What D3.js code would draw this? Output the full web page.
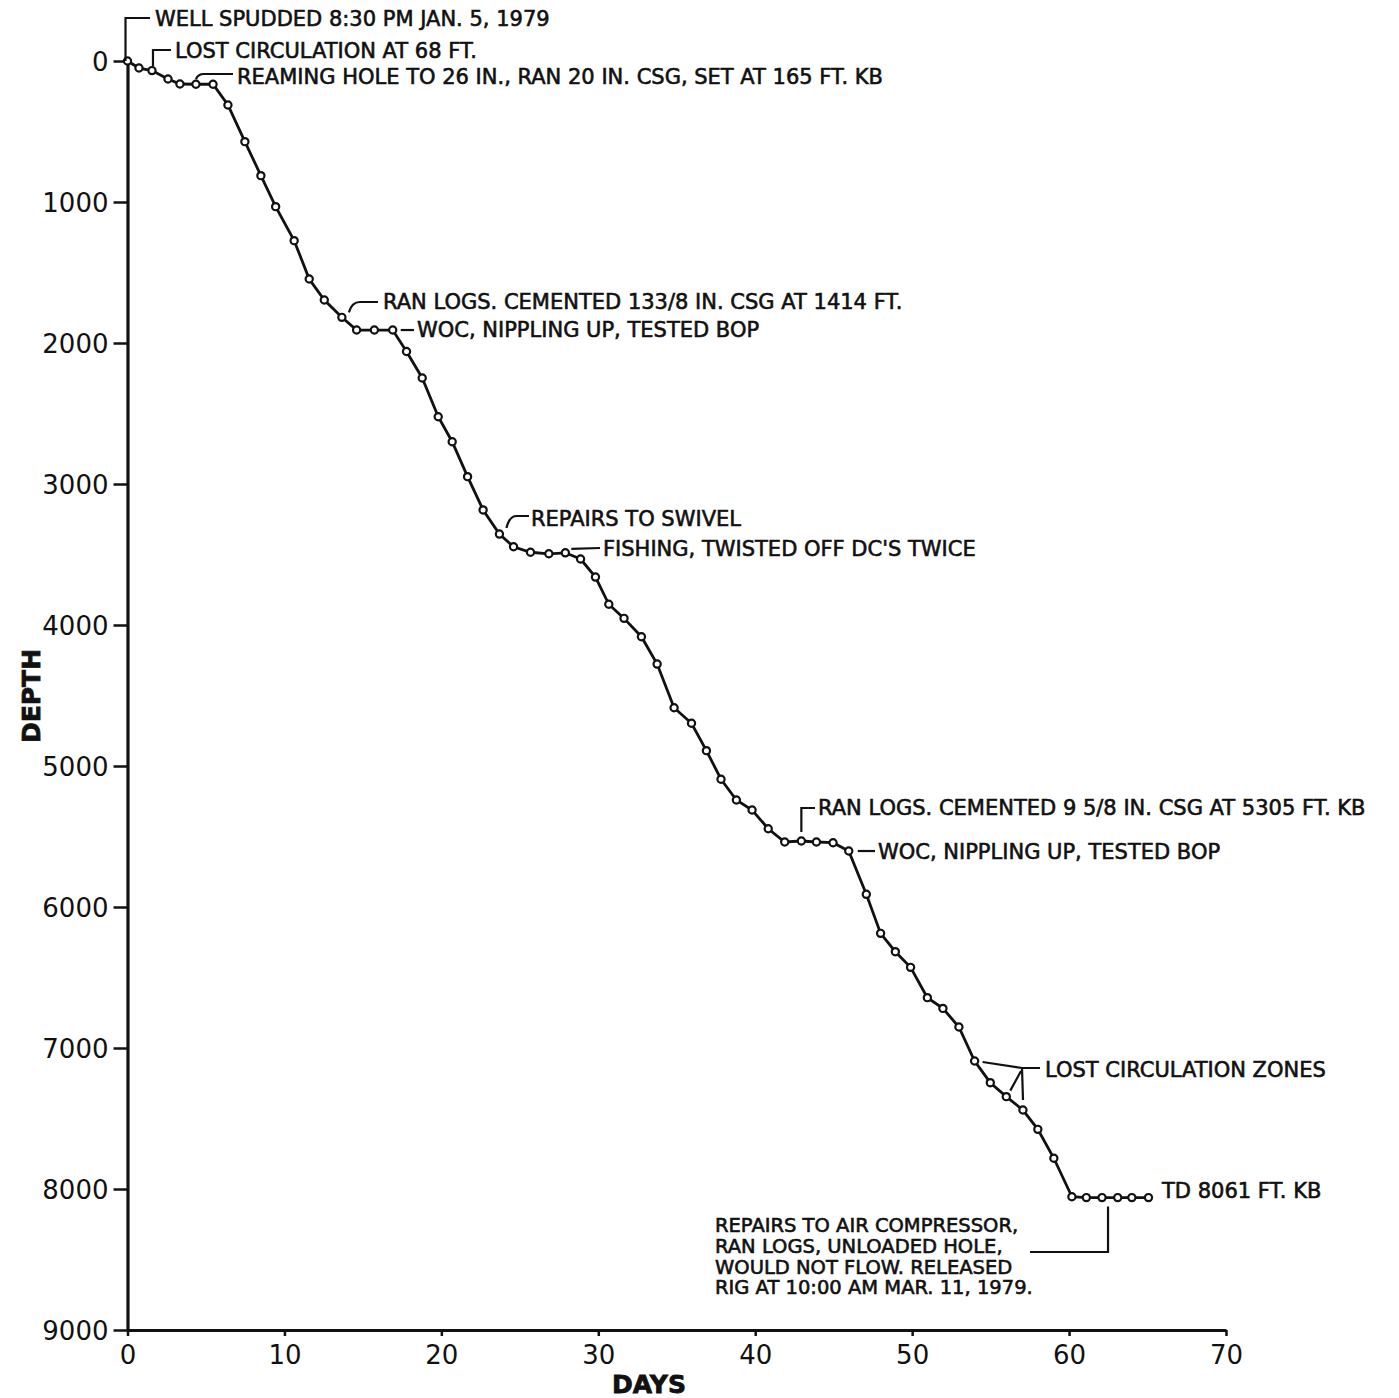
<!DOCTYPE html>
<html>
<head>
<meta charset="utf-8">
<script src="https://cdn.jsdelivr.net/npm/d3@7"></script>
<style>
  body { margin: 0; background: #fff; }
  svg text { font-family: "DejaVu Sans", sans-serif; fill: #111; }
  .note { font-size: 21px; stroke: #111; stroke-width: 0.6px; }
  .tick text { font-size: 26px; }
</style>
</head>
<body>
<div class="chart"></div>
<script>
// days since spud and depth (ft)
var days = [0, 0.73, 1.56, 2.58, 3.34, 4.36, 5.45, 6.4, 7.48, 8.5, 9.44, 10.62, 11.58, 12.54,
    13.66, 14.6, 15.73, 16.9, 17.78, 18.78, 19.8, 20.69, 21.67, 22.66, 23.7, 24.6, 25.68,
    26.85, 27.9, 28.87, 29.82, 30.67, 31.64, 32.75, 33.75, 34.83, 35.94, 36.89, 37.82, 38.8,
    39.8, 40.83, 41.88, 42.94, 43.9, 44.96, 45.96, 47.08, 47.99, 48.93, 49.9, 50.97, 51.96,
    52.98, 53.98, 54.98, 56.0, 57.06, 58.01, 59.03, 60.18, 61.1, 62.1, 63.1, 64.0, 65.06];
var depths = [0, 50, 68, 128, 163, 165, 165, 312, 572, 813, 1033, 1274, 1546, 1695,
    1818, 1908, 1908, 1908, 2060, 2248, 2523, 2700, 2948, 3184, 3355, 3445, 3484,
    3495, 3488, 3532, 3660, 3853, 3953, 4083, 4277, 4587, 4697, 4891, 5094, 5241,
    5312, 5445, 5539, 5532, 5539, 5544, 5603, 5910, 6187, 6317, 6428, 6643, 6719,
    6851, 7092, 7246, 7345, 7440, 7577, 7782, 8055, 8061, 8061, 8061, 8061, 8061];
var dayTicks = [0, 10, 20, 30, 40, 50, 60, 70];
var depthTicks = [0, 1000, 2000, 3000, 4000, 5000, 6000, 7000, 8000, 9000];
var noteTexts = [
    "WELL SPUDDED 8:30 PM JAN. 5, 1979",
    "LOST CIRCULATION AT 68 FT.",
    "REAMING HOLE TO 26 IN., RAN 20 IN. CSG, SET AT 165 FT. KB",
    "RAN LOGS. CEMENTED 133/8 IN. CSG AT 1414 FT.",
    "WOC, NIPPLING UP, TESTED BOP",
    "REPAIRS TO SWIVEL",
    "FISHING, TWISTED OFF DC'S TWICE",
    "RAN LOGS. CEMENTED 9 5/8 IN. CSG AT 5305 FT. KB",
    "WOC, NIPPLING UP, TESTED BOP",
    "LOST CIRCULATION ZONES",
    "TD 8061 FT. KB"
];
var finalNote = [
    "REPAIRS TO AIR COMPRESSOR,",
    "RAN LOGS, UNLOADED HOLE,",
    "WOULD NOT FLOW. RELEASED",
    "RIG AT 10:00 AM MAR. 11, 1979."
];

var config = {
    w: 1399,
    h: 1398,
    left: 127.5,
    right: 1226,
    top: 61,
    bottom: 1330
};

var data = days.map(function (d, i) { return { day: d, depth: depths[i] }; });

var xScale = d3.scaleLinear().domain([0, 70]).range([config.left, config.right]);
var yScale = d3.scaleLinear().domain([0, 9000]).range([config.top, config.bottom]);

var svg = d3.select(".chart")
    .append("svg")
    .attr("width", config.w)
    .attr("height", config.h);

var xAxis = d3.axisBottom(xScale).tickValues(dayTicks).tickSize(6).tickSizeOuter(0).tickPadding(10)
    .tickFormat(d3.format("d"));
var yAxis = d3.axisLeft(yScale).tickValues(depthTicks).tickSize(14).tickSizeOuter(0).tickPadding(5)
    .tickFormat(d3.format("d"));

var gx = svg.append("g")
    .attr("transform", "translate(0," + config.bottom + ")")
    .call(xAxis);
var gy = svg.append("g")
    .attr("transform", "translate(" + config.left + ",0)")
    .call(yAxis);

[gx, gy].forEach(function (g) {
    g.select(".domain").attr("stroke", "#111").attr("stroke-width", 3.2);
    g.selectAll(".tick line").attr("stroke", "#111").attr("stroke-width", 2.5);
    g.selectAll(".tick text").attr("fill", "#111");
});
gy.selectAll(".tick text").attr("dy", "0.36em");

// axis titles
svg.append("text")
    .attr("x", 649)
    .attr("y", 1393)
    .attr("text-anchor", "middle")
    .attr("font-size", 25)
    .attr("font-weight", "bold")
    .attr("stroke", "#111").attr("stroke-width", 0.8)
    .text("DAYS");

svg.append("text")
    .attr("transform", "translate(40," + 696 + ") rotate(-90)")
    .attr("text-anchor", "middle")
    .attr("font-size", 25)
    .attr("font-weight", "bold")
    .attr("stroke", "#111").attr("stroke-width", 0.8)
    .text("DEPTH");

// the curve
var line = d3.line()
    .x(function (d) { return xScale(d.day); })
    .y(function (d) { return yScale(d.depth); });

svg.append("path")
    .datum(data)
    .attr("d", line)
    .attr("fill", "none")
    .attr("stroke", "#111")
    .attr("stroke-width", 2.8);

svg.selectAll("circle")
    .data(data)
    .enter()
    .append("circle")
    .attr("cx", function (d) { return xScale(d.day); })
    .attr("cy", function (d) { return yScale(d.depth); })
    .attr("r", 3.6)
    .attr("fill", "#fff")
    .attr("stroke", "#111")
    .attr("stroke-width", 2.2);

// leaders, relative to the point they point at
var px = function (i) { return xScale(days[i]); };
var py = function (i) { return yScale(depths[i]); };

var leaders = [
    "M" + (px(0) - 2) + "," + py(0) + " V18 H150",
    "M" + (px(2) + 1) + "," + (py(2) - 4) + " V50 H171",
    "M" + px(5) + "," + (py(5) - 5) + " Q" + (px(5) + 2) + ",74 " + (px(5) + 8) + ",74 H233",
    "M" + (px(14) + 7) + "," + (py(14) - 5) + " Q" + (px(14) + 10) + ",302 " + (px(14) + 18) + ",302 H378",
    "M" + (px(17) + 8) + "," + py(17) + " H414",
    "M" + (px(24) + 7) + "," + (py(24) - 6) + " Q" + (px(24) + 10) + ",516 " + (px(24) + 17) + ",516 H529",
    "M" + (px(28) + 6) + "," + (py(28) - 4) + " L600,548",
    "M" + px(43) + "," + (py(43) - 9) + " V808 H815",
    "M" + (px(46) + 9) + "," + py(46) + " H875",
    "M" + (px(54) + 8) + "," + (py(54) + 1) + " L1022,1068 H1040 M1022,1068 L1023," + (py(57) - 10) +
        " M1021,1071 L" + (px(56) + 4) + "," + (py(56) - 6),
    "M" + (px(62) + 6) + "," + (py(62) + 9) + " V1252 H1030"
];

svg.selectAll(".leader")
    .data(leaders)
    .enter()
    .append("path")
    .attr("class", "leader")
    .attr("d", function (d) { return d; })
    .attr("fill", "none")
    .attr("stroke", "#111")
    .attr("stroke-width", 2.2);

var notePos = [
    [155, 26], [175, 58], [237, 84], [383, 309], [417, 337], [531, 526],
    [603, 556], [818, 815], [878, 859], [1045, 1077], [1162, 1198]
];

svg.selectAll(".note")
    .data(noteTexts)
    .enter()
    .append("text")
    .attr("class", "note")
    .attr("x", function (d, i) { return notePos[i][0]; })
    .attr("y", function (d, i) { return notePos[i][1]; })
    .text(function (d) { return d; });

svg.selectAll(".final")
    .data(finalNote)
    .enter()
    .append("text")
    .attr("class", "note final")
    .attr("x", 715)
    .attr("y", function (d, i) { return 1232 + i * 20.8; })
    .style("font-size", "19.5px")
    .text(function (d) { return d; });
</script>
</body>
</html>
